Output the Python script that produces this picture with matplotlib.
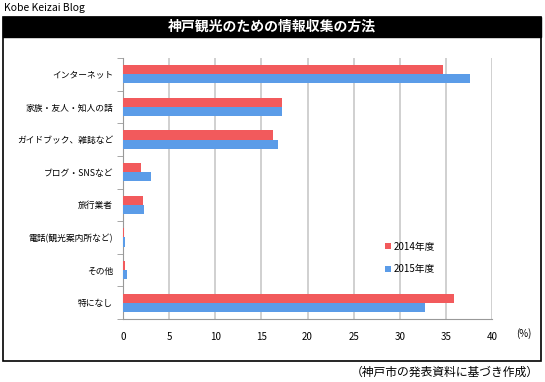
import matplotlib

matplotlib.use("Agg")
import matplotlib.pyplot as plt
from matplotlib.patches import Rectangle
import numpy as np

plt.rcParams["font.family"] = ["Noto Sans CJK JP", "DejaVu Sans"]

categories = ["インターネット", "家族・友人・知人の話", "ガイドブック、雑誌など", "ブログ・SNSなど",
              "旅行業者", "電話(観光案内所など)", "その他", "特になし"]
values_2014 = [34.7, 17.2, 16.3, 2.0, 2.2, 0.1, 0.2, 35.9]
values_2015 = [37.6, 17.2, 16.8, 3.0, 2.3, 0.2, 0.4, 32.7]
series_labels = ["2014年度", "2015年度"]
x_ticks = [0, 5, 10, 15, 20, 25, 30, 35, 40]

W, H = 545, 382
fig = plt.figure(figsize=(W / 100, H / 100), dpi=100)

# outer frame and title bar
fig.patches.append(Rectangle((3 / W, 1 - 361 / H), 538 / W, 344 / H, transform=fig.transFigure,
                             fill=False, edgecolor="black", linewidth=1.2))
fig.patches.append(Rectangle((3 / W, 1 - 37 / H), 538 / W, 20 / H, transform=fig.transFigure,
                             facecolor="black", edgecolor="black"))
fig.text(272 / W, 1 - 27 / H, "神戸観光のための情報収集の方法", color="white", fontsize=10,
         fontweight="bold", ha="center", va="center")
fig.text(4 / W, 1 - 8 / H, "Kobe Keizai Blog", fontsize=7.5, ha="left", va="center")
fig.text(539 / W, 1 - 372 / H, "（神戸市の発表資料に基づき作成）", fontsize=8.5, ha="right", va="center")

ax = fig.add_axes([123 / W, 1 - 319 / H, 369 / W, 261 / H])
y = np.arange(len(categories))
h = 0.28
ax.barh(y - h / 2, values_2014, height=h, color="#F25A5C", label=series_labels[0], zorder=3)
ax.barh(y + h / 2, values_2015, height=h, color="#5B9CE8", label=series_labels[1], zorder=3)

ax.set_xlim(0, 40)
ax.set_ylim(len(categories) - 0.5, -0.5)
ax.set_xticks(x_ticks)
ax.set_xticklabels([str(t) for t in x_ticks], fontsize=7)
ax.set_yticks(y)
ax.set_yticklabels(categories, fontsize=6.3)
ax.set_yticks(np.arange(len(categories) + 1) - 0.5, minor=True)
ax.tick_params(axis="y", which="major", length=0, pad=7)
ax.tick_params(axis="y", which="minor", length=4, color="#999999")
ax.tick_params(axis="x", length=0, pad=9)
ax.grid(axis="x", color="#C8C8C8", linewidth=1.2, zorder=0)
for side in ["top", "right"]:
    ax.spines[side].set_visible(False)
ax.spines["left"].set_color("#999999")
ax.spines["bottom"].set_color("#999999")
fig.text(524 / W, 1 - 334 / H, "(%)", fontsize=7, ha="center", va="center")

ax.legend(loc="center", bbox_to_anchor=(410 / W, 1 - 258 / H), bbox_transform=fig.transFigure,
          frameon=False, fontsize=7, handlelength=0.6, handleheight=0.6, handletextpad=0.3,
          labelspacing=1.3)

fig.savefig("out.png", dpi=100)
